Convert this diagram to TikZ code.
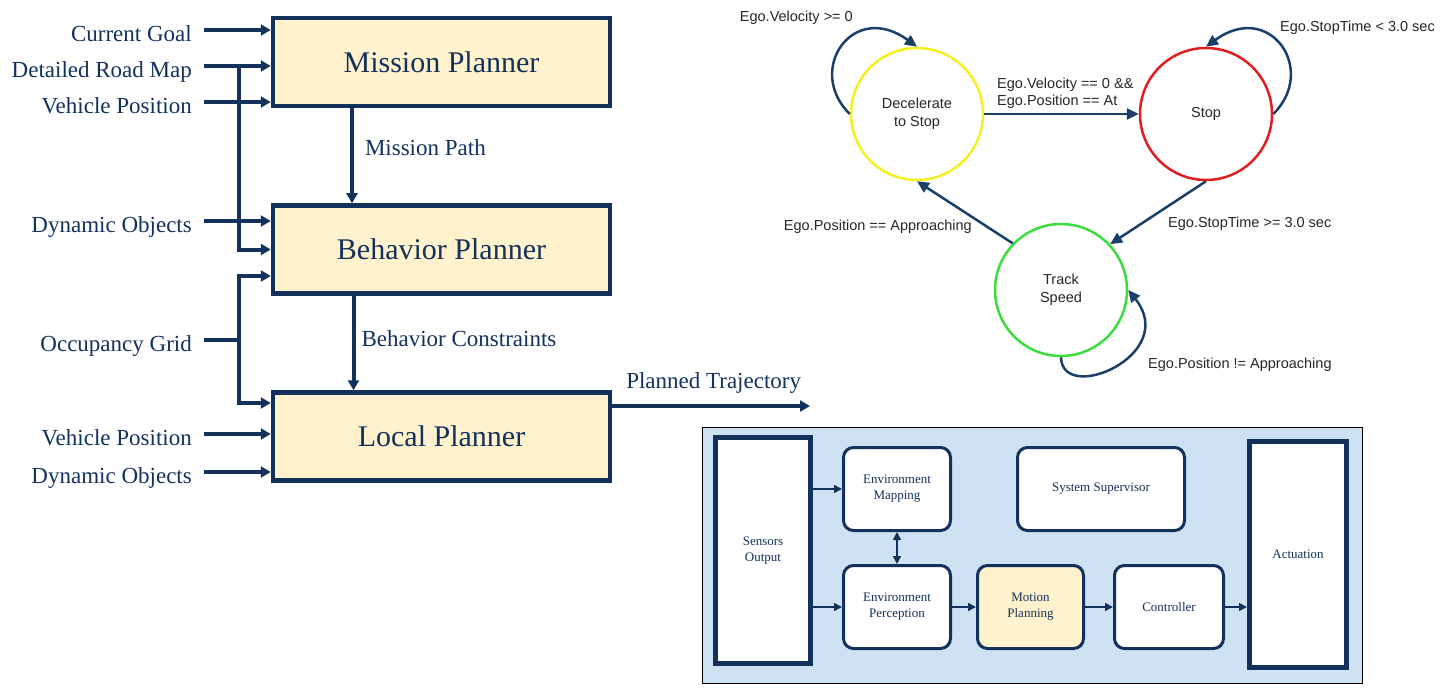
\documentclass[tikz,border=0pt]{standalone}
\usepackage{fontspec}
\setmainfont{Liberation Serif}
\setsansfont{Liberation Sans}
\usepackage{tikz}
\usetikzlibrary{arrows.meta, positioning}

\definecolor{navy}{HTML}{12325C}
\definecolor{edgeblue}{HTML}{1A3F68}
\definecolor{cream}{HTML}{FFF2CC}
\definecolor{skyfill}{HTML}{CFE2F3}
\definecolor{goyellow}{HTML}{F5F020}
\definecolor{stopred}{HTML}{E01E1E}
\definecolor{trackgreen}{HTML}{3DDC3D}

\begin{document}
\begin{tikzpicture}[x=1pt, y=-1pt,
                planner/.style={draw=navy, line width=4.5pt, fill=cream, minimum width=337pt, minimum height=88pt, text=navy, font=\fontsize{30}{36}\selectfont},
                inlabel/.style={anchor=mid east, inner sep=0pt, text=navy, font=\fontsize{23}{28}\selectfont},
                flow/.style={draw=navy, line width=4pt, -{Triangle[length=10pt,width=11pt]}},
                wire/.style={draw=navy, line width=4pt},
                state/.style={circle, line width=2.5pt, minimum size=132pt, align=center, text=black!85, font=\sffamily\fontsize{14.5}{18}\selectfont},
                trans/.style={draw=edgeblue, line width=2.5pt, -{Triangle[length=12pt,width=11pt]}},
                guard/.style={inner sep=0pt, align=left, text=black!85, font=\sffamily\fontsize{14.5}{17}\selectfont},
                module/.style={draw=navy, line width=3pt, fill=white, rounded corners=10pt, minimum width=107pt, minimum height=83pt, align=center, text=navy, font=\fontsize{13}{16}\selectfont},
                endbox/.style={draw=navy, line width=5pt, fill=white, minimum height=226pt, align=center, text=navy, font=\fontsize{13}{16}\selectfont},
                link/.style={draw=navy, line width=1.5pt, -{Triangle[length=8pt,width=8pt]}}]

                \useasboundingbox (0,0) rectangle (1444,698);

                % Planner hierarchy (left)
                \node[planner] (mission) at (441.5,62) {Mission Planner};
                \node[planner] (behavior) at (441.5,249.5) {Behavior Planner};
                \node[planner] (local) at (441.5,436.5) {Local Planner};

                % Input labels
                \node[inlabel] (goal) at (192,39) {Current Goal};
                \node[inlabel] (roadmap) at (192,75) {Detailed Road Map};
                \node[inlabel] (vpos1) at (192,111) {Vehicle Position};
                \node[inlabel] (dyn1) at (192,230) {Dynamic Objects};
                \node[inlabel] (grid) at (192,349) {Occupancy Grid};
                \node[inlabel] (vpos2) at (192,443) {Vehicle Position};
                \node[inlabel] (dyn2) at (192,481) {Dynamic Objects};

                \coordinate (goalin) at (204,30);
                \coordinate (mapin) at (204,66);
                \coordinate (posin) at (204,102);
                \coordinate (dynin) at (204,221);
                \coordinate (gridin) at (204,340);
                \coordinate (pos2in) at (204,434);
                \coordinate (dyn2in) at (204,472);
                \coordinate (mapbus) at (239,66);
                \coordinate (gridbus) at (239,340);
                \coordinate (gridup) at (239,276);
                \coordinate (griddown) at (239,403);

                % Inputs
                \draw[flow] (goalin) -- (goalin -| mission.west);
                \draw[flow] (mapin) -- (mapin -| mission.west);
                \draw[flow] (posin) -- (posin -| mission.west);
                \draw[flow] (mapbus) |- (behavior.west);
                \draw[flow] (dynin) -- (dynin -| behavior.west);
                \draw[wire] (gridin) -- (gridbus);
                \draw[navy, line width=4pt, {Triangle[length=10pt,width=11pt]}-{Triangle[length=10pt,width=11pt]}]
                    (gridup -| behavior.west) -- (gridup) -- (griddown) -- (griddown -| local.west);
                \draw[flow] (pos2in) -- (pos2in -| local.west);
                \draw[flow] (dyn2in) -- (dyn2in -| local.west);

                % Between planners
                \draw[flow] ([xshift=-89.5pt]mission.south) -- ([xshift=-89.5pt]behavior.north)
                    node[pos=0.47, anchor=mid west, xshift=11pt, inner sep=0pt, text=navy, font=\fontsize{23}{28}\selectfont] {Mission Path};
                \draw[flow] ([xshift=-88pt]behavior.south) -- ([xshift=-88pt]local.north)
                    node[pos=0.51, anchor=mid west, xshift=6pt, inner sep=0pt, text=navy, font=\fontsize{23}{28}\selectfont] {Behavior Constraints};

                % Output
                \coordinate (trajout) at (810,406);
                \draw[flow] (local.east |- trajout) -- (trajout)
                    node[pos=0, anchor=base west, xshift=12pt, yshift=18pt, inner sep=0pt, text=navy, font=\fontsize{23}{28}\selectfont] {Planned Trajectory};

                % State machine (top right)
                \node[state, draw=goyellow] (decel) at (917,114) {Decelerate\\to Stop};
                \node[state, draw=stopred] (stop) at (1206,114) {Stop};
                \node[state, draw=trackgreen] (track) at (1061,290) {Track\\Speed};

                \draw[trans] (decel) -- (stop);
                \draw[trans] (stop.south) -- (track.43);
                \draw[trans] (track.136) -- (decel.south);
                \draw[trans] (decel.west) .. controls (805,70) and (853,0) .. (decel.north);
                \draw[trans] (stop.east) .. controls (1318,70) and (1270,0) .. (stop.north);
                \draw[trans] (track.south) .. controls (1062,405) and (1180,355) .. (track.east);

                \node[guard, anchor=base east] (g0) at (853,22) {Ego.Velocity >= 0};
                \node[guard, anchor=base west] (g1) at (997,106) {Ego.Velocity == 0 \&\&\\Ego.Position == At};
                \node[guard, anchor=base west] (g2) at (1280,32) {Ego.StopTime < 3.0 sec};
                \node[guard, anchor=base west] (g3) at (1168,227) {Ego.StopTime >= 3.0 sec};
                \node[guard, anchor=base east] (g4) at (972,230) {Ego.Position == Approaching};
                \node[guard, anchor=base west] (g5) at (1148,368) {Ego.Position != Approaching};

                % Software stack (bottom right)
                \node[draw=black, line width=0.8pt, fill=skyfill, minimum width=660pt, minimum height=256pt] (stack) at (1032,555) {};
                \node[endbox, minimum width=95pt] (sensors) at (763,550.5) {Sensors\\Output};
                \node[endbox, minimum width=97pt] (actuation) at (1298,554.5) {Actuation};
                \node[module] (mapping) at (897,489) {Environment\\Mapping};
                \node[module, minimum width=167pt] (supervisor) at (1101,489) {System Supervisor};
                \node[module] (perception) at (897,607) {Environment\\Perception};
                \node[module, fill=cream, minimum width=106pt] (motion) at (1030.5,607) {Motion\\Planning};
                \node[module, minimum width=109pt] (controller) at (1169,607) {Controller};

                \draw[link] (sensors.east |- mapping) -- (mapping.west);
                \draw[link] (sensors.east |- perception) -- (perception.west);
                \draw[link, {Triangle[length=8pt,width=8pt]}-{Triangle[length=8pt,width=8pt]}] (mapping) -- (perception);
                \draw[link] (perception) -- (motion);
                \draw[link] (motion) -- (controller);
                \draw[link] (controller.east) -- (controller.east -| actuation.west);
            \end{tikzpicture}
\end{document}
